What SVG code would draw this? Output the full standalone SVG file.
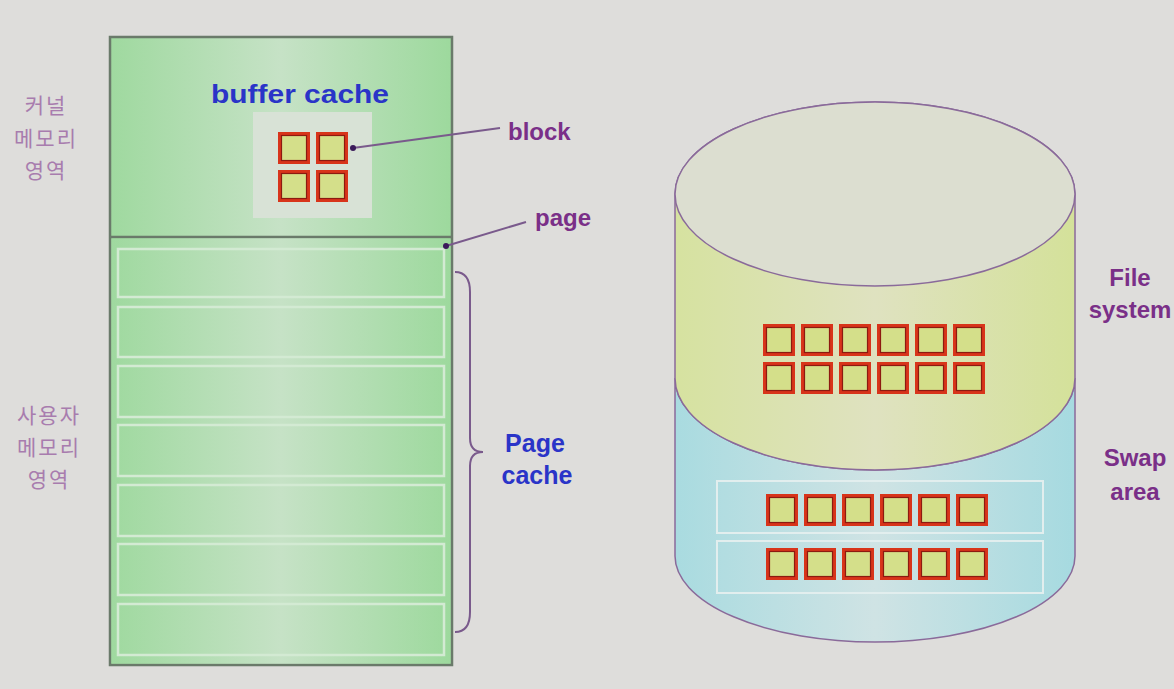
<svg xmlns="http://www.w3.org/2000/svg" width="1174" height="689" viewBox="0 0 1174 689">
<style>
.kr{font-family:"Noto Sans CJK KR","Noto Sans",sans-serif;font-size:21px;letter-spacing:2px;fill:#a87cae;text-anchor:middle}
.lbl{font-family:"Liberation Sans",Arial,sans-serif;font-weight:bold;font-size:24px;fill:#7a2f88}
.blue{font-family:"Liberation Sans",Arial,sans-serif;font-weight:bold;font-size:25px;fill:#2a34c8;text-anchor:middle}
.strip{fill:none;stroke:#d3ead3;stroke-width:2.5}
.sstrip{fill:none;stroke:#e2eeee;stroke-width:2}
.blk{fill:#d4df8a;stroke:#d8341a;stroke-width:3}
.blki{fill:none;stroke:#8c1a10;stroke-width:1.2}
.conn{stroke:#7a5a8c;stroke-width:2;fill:none}
.cyl{stroke:#8a6a9a;stroke-width:1.5}
</style>
<defs>
<linearGradient id="gGreen" x1="0" y1="0" x2="1" y2="0">
<stop offset="0" stop-color="#9fd99f"/><stop offset="0.5" stop-color="#c6e2c6"/><stop offset="1" stop-color="#9dd99d"/>
</linearGradient>
<linearGradient id="gYel" x1="0" y1="0" x2="1" y2="0">
<stop offset="0" stop-color="#d6e2a0"/><stop offset="0.5" stop-color="#dfe2c0"/><stop offset="1" stop-color="#d4e19a"/>
</linearGradient>
<linearGradient id="gBlue" x1="0" y1="0" x2="1" y2="0">
<stop offset="0" stop-color="#a9dbe0"/><stop offset="0.5" stop-color="#cfe3e4"/><stop offset="1" stop-color="#a6dae0"/>
</linearGradient>
<g id="b">
<rect class="blk" width="29" height="29"/>
<rect class="blki" x="2" y="2" width="25" height="25"/>
</g>
<marker id="dot" markerWidth="8" markerHeight="8" refX="4" refY="4" markerUnits="userSpaceOnUse">
<circle cx="4" cy="4" r="3" fill="#3a1a5a"/>
</marker>
</defs>
<rect width="1174" height="689" fill="#dedddb"/>

<g id="memory">
<rect x="110" y="37" width="342" height="628" fill="url(#gGreen)" stroke="#6a7a6a" stroke-width="2.5"/>
<line x1="110" y1="237" x2="452" y2="237" stroke="#6a7a6a" stroke-width="2.5"/>
<rect x="111.5" y="238.5" width="339" height="425" fill="url(#gGreen)" opacity="0.7"/>
</g>

<g id="kernel-label">
<text class="kr" x="46" y="113">커널</text>
<text class="kr" x="46" y="146">메모리</text>
<text class="kr" x="46" y="178">영역</text>
</g>
<g id="user-label">
<text class="kr" x="49" y="423">사용자</text>
<text class="kr" x="49" y="455">메모리</text>
<text class="kr" x="49" y="487">영역</text>
</g>

<g id="buffer-cache">
<text class="blue" x="300" y="103" textLength="178" lengthAdjust="spacingAndGlyphs">buffer cache</text>
<rect x="253" y="112" width="119" height="106" fill="#d8e2d6"/>
<use href="#b" x="279.5" y="133.5"/>
<use href="#b" x="317.5" y="133.5"/>
<use href="#b" x="279.5" y="171.5"/>
<use href="#b" x="317.5" y="171.5"/>
</g>

<g id="pages">
<rect class="strip" x="118" y="249" width="326" height="48"/>
<rect class="strip" x="118" y="307" width="326" height="50"/>
<rect class="strip" x="118" y="366" width="326" height="51"/>
<rect class="strip" x="118" y="425" width="326" height="51"/>
<rect class="strip" x="118" y="485" width="326" height="51"/>
<rect class="strip" x="118" y="544" width="326" height="51"/>
<rect class="strip" x="118" y="604" width="326" height="51"/>
</g>

<g id="page-cache">
<path class="conn" d="M455,272 Q470,272 470,292 L470,438 Q470,452 483,452 Q470,452 470,466 L470,612 Q470,632 455,632" stroke-width="1.8"/>
<text class="blue" x="535" y="452">Page</text>
<text class="blue" x="537" y="484">cache</text>
</g>

<g id="block-label"><text class="lbl" x="508" y="140">block</text></g>
<g id="page-label"><text class="lbl" x="535" y="226">page</text></g>

<g id="connectors">
<line class="conn" x1="353" y1="148" x2="500" y2="128" marker-start="url(#dot)"/>
<line class="conn" x1="446" y1="246" x2="526" y2="222" marker-start="url(#dot)"/>
</g>

<g id="disk">
<path class="cyl" fill="url(#gBlue)" d="M675,378 L675,556 A200,86 0 0 0 1075,556 L1075,378 A200,92 0 0 1 675,378 Z"/>
<path class="cyl" fill="url(#gYel)" d="M675,194 L675,378 A200,92 0 0 0 1075,378 L1075,194 A200,92 0 0 0 675,194 Z"/>
<ellipse class="cyl" cx="875" cy="194" rx="200" ry="92" fill="#dcded0"/>
</g>

<g id="file-system">
<use href="#b" x="764.5" y="325.5"/><use href="#b" x="802.5" y="325.5"/><use href="#b" x="840.5" y="325.5"/>
<use href="#b" x="878.5" y="325.5"/><use href="#b" x="916.5" y="325.5"/><use href="#b" x="954.5" y="325.5"/>
<use href="#b" x="764.5" y="363.5"/><use href="#b" x="802.5" y="363.5"/><use href="#b" x="840.5" y="363.5"/>
<use href="#b" x="878.5" y="363.5"/><use href="#b" x="916.5" y="363.5"/><use href="#b" x="954.5" y="363.5"/>
<text class="lbl" x="1130" y="286" text-anchor="middle">File</text>
<text class="lbl" x="1130" y="318" text-anchor="middle">system</text>
</g>

<g id="swap-area">
<rect class="sstrip" x="717" y="481" width="326" height="52"/>
<rect class="sstrip" x="717" y="541" width="326" height="52"/>
<use href="#b" x="767.5" y="495.5"/><use href="#b" x="805.5" y="495.5"/><use href="#b" x="843.5" y="495.5"/>
<use href="#b" x="881.5" y="495.5"/><use href="#b" x="919.5" y="495.5"/><use href="#b" x="957.5" y="495.5"/>
<use href="#b" x="767.5" y="549.5"/><use href="#b" x="805.5" y="549.5"/><use href="#b" x="843.5" y="549.5"/>
<use href="#b" x="881.5" y="549.5"/><use href="#b" x="919.5" y="549.5"/><use href="#b" x="957.5" y="549.5"/>
<text class="lbl" x="1135" y="466" text-anchor="middle">Swap</text>
<text class="lbl" x="1135" y="500" text-anchor="middle">area</text>
</g>
</svg>
